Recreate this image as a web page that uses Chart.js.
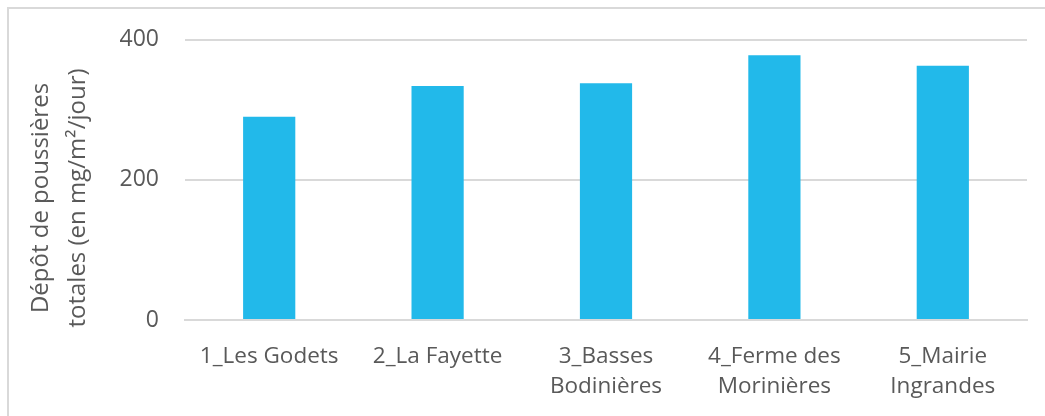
<!DOCTYPE html>
<html>
<head>
<meta charset="utf-8">
<script src="https://cdn.jsdelivr.net/npm/chart.js@4"></script>
<style>
  html, body { margin: 0; padding: 0; background: #ffffff; }
  #wrap { position: relative; width: 1045px; height: 416px; overflow: hidden; }
  #frame { position: absolute; left: 7px; top: 7px; width: 1100px; height: 500px; border: 2px solid #d9d9d9; box-sizing: border-box; }
  canvas { position: absolute; left: 0; top: 0; }
</style>
</head>
<body>
<div id="wrap">
  <div id="frame"></div>
  <canvas id="c" width="1045" height="416"></canvas>
</div>
<script>
const categories = [
  ["1_Les Godets"],
  ["2_La Fayette"],
  ["3_Basses", "Bodinières"],
  ["4_Ferme des", "Morinières"],
  ["5_Mairie", "Ingrandes"]
];
const depotValues = [290, 334, 338, 378, 363];
const yTickValues = [0, 200, 400];
const yTitleLines = ["Dépôt de poussières", "totales (en mg/m²/jour)"];

const textColor = "#595959";
const fontFamily = "'Open Sans', 'Noto Sans', sans-serif";

// Draws the two-line rotated y-axis title
const yTitlePlugin = {
  id: "yTitle",
  afterDraw(chart, args, opts) {
    const ctx = chart.ctx;
    ctx.save();
    ctx.fillStyle = opts.color;
    ctx.font = opts.size + "px " + opts.family;
    ctx.textAlign = "center";
    ctx.textBaseline = "alphabetic";
    opts.lines.forEach((line, i) => {
      ctx.save();
      ctx.translate(opts.baselineX + i * opts.lineSpacing, opts.centerY);
      ctx.rotate(-Math.PI / 2);
      ctx.fillText(line, 0, 0);
      ctx.restore();
    });
    ctx.restore();
  }
};

new Chart(document.getElementById("c"), {
  type: "bar",
  data: {
    labels: categories,
    datasets: [{
      data: depotValues,
      backgroundColor: "#22b9ea",
      borderWidth: 0,
      categoryPercentage: 1.0,
      barPercentage: 0.31
    }]
  },
  plugins: [yTitlePlugin],
  options: {
    responsive: false,
    animation: false,
    layout: { padding: { left: 0, right: 18, top: 37, bottom: 0 } },
    plugins: {
      legend: { display: false },
      tooltip: { enabled: false },
      yTitle: {
        lines: yTitleLines,
        color: textColor,
        family: fontFamily,
        size: 24,
        baselineX: 48,
        lineSpacing: 37,
        centerY: 198
      }
    },
    scales: {
      x: {
        grid: { display: false, drawTicks: false },
        border: { display: true, color: "#d9d9d9", width: 2 },
        ticks: {
          color: textColor,
          font: { family: fontFamily, size: 22.5, lineHeight: 1.36 },
          padding: 21,
          maxRotation: 0,
          autoSkip: false
        },
        afterFit: (s) => { s.height = 96; }
      },
      y: {
        min: 0,
        max: 400,
        afterBuildTicks: (s) => { s.ticks = yTickValues.map(v => ({ value: v })); },
        grid: { color: "#d9d9d9", lineWidth: 2, drawTicks: false },
        border: { display: false },
        ticks: {
          color: textColor,
          font: { family: fontFamily, size: 23 },
          padding: 26
        },
        afterFit: (s) => { s.width = 185; }
      }
    }
  }
});
</script>
</body>
</html>
